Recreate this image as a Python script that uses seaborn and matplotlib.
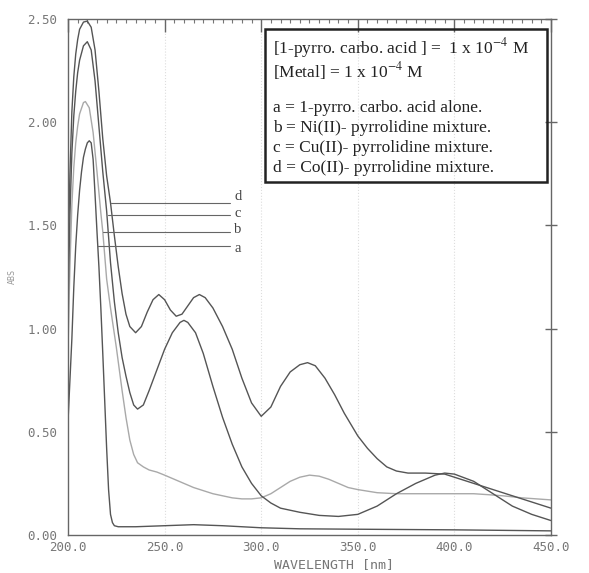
import numpy as np
import pandas as pd
import matplotlib
matplotlib.use("Agg")
import matplotlib.pyplot as plt
import seaborn as sns
from matplotlib.patches import Rectangle
from matplotlib.ticker import MultipleLocator

# curve a : 1-pyrro. carbo. acid alone
a_nm = [200, 202, 203, 204, 205, 206, 207, 208, 209, 210, 211, 212, 213, 214, 215, 216, 217, 218,
        219, 220, 221, 222, 223, 224, 226, 235, 250, 265, 280, 300, 320, 350, 400, 450]
a_abs = [0.55, 0.95, 1.20, 1.40, 1.55, 1.67, 1.76, 1.83, 1.87, 1.90, 1.91, 1.90, 1.82, 1.65, 1.47, 1.30, 1.10, 0.88,
         0.65, 0.42, 0.22, 0.10, 0.06, 0.045, 0.04, 0.04, 0.045, 0.05, 0.045, 0.035, 0.03, 0.028, 0.025, 0.02]

# curve b : Ni(II)
b_nm = [200, 201, 202, 203, 204, 205, 206, 208, 209, 211, 213, 215, 217, 218, 220, 222, 225, 228, 230, 232,
        234, 236, 239, 242, 246, 250, 255, 260, 265, 270, 275, 280, 285, 290, 295, 300, 305, 310, 315, 320,
        325, 330, 335, 340, 345, 350, 360, 370, 380, 390, 400, 410, 418, 425, 435, 450]
b_abs = [0.90, 1.30, 1.60, 1.78, 1.90, 1.98, 2.04, 2.095, 2.10, 2.07, 1.95, 1.76, 1.56, 1.47, 1.24, 1.10, 0.91, 0.70, 0.57, 0.46,
         0.39, 0.35, 0.33, 0.315, 0.305, 0.29, 0.27, 0.25, 0.23, 0.215, 0.20, 0.19, 0.18, 0.175, 0.175, 0.18, 0.20, 0.23, 0.26, 0.28,
         0.29, 0.285, 0.27, 0.25, 0.23, 0.22, 0.205, 0.20, 0.20, 0.20, 0.20, 0.20, 0.195, 0.19, 0.18, 0.17]

# curve c : Cu(II)
c_nm = [200, 201, 202, 203, 204, 205, 206, 208, 210, 212, 214, 216, 218, 220, 222, 224, 226, 228, 230, 232,
        234, 236, 239, 242, 246, 250, 254, 258, 260, 262, 266, 270, 275, 280, 285, 290, 295, 300, 305, 310,
        315, 320, 330, 340, 350, 360, 370, 380, 390, 395, 400, 410, 420, 430, 440, 450]
c_abs = [1.10, 1.55, 1.85, 2.03, 2.15, 2.24, 2.30, 2.37, 2.39, 2.35, 2.20, 1.98, 1.76, 1.57, 1.32, 1.13, 0.98, 0.86, 0.77, 0.69,
         0.63, 0.61, 0.63, 0.70, 0.80, 0.90, 0.98, 1.03, 1.04, 1.03, 0.98, 0.88, 0.72, 0.57, 0.44, 0.33, 0.25, 0.19, 0.155, 0.13,
         0.12, 0.11, 0.095, 0.09, 0.10, 0.14, 0.20, 0.25, 0.29, 0.30, 0.295, 0.26, 0.20, 0.14, 0.10, 0.07]

# curve d : Co(II)
d_nm = [200, 201, 202, 203, 204, 205, 206, 208, 210, 212, 214, 216, 218, 220, 222, 224, 226, 228, 230, 232,
        235, 238, 241, 244, 247, 250, 253, 256, 259, 262, 265, 268, 271, 275, 280, 285, 290, 295, 300, 305,
        310, 315, 320, 324, 328, 333, 338, 343, 350, 355, 360, 365, 370, 376, 385, 395, 400, 410, 420, 430, 440, 450]
d_abs = [1.30, 1.75, 2.05, 2.22, 2.33, 2.40, 2.45, 2.485, 2.49, 2.46, 2.35, 2.15, 1.92, 1.74, 1.61, 1.45, 1.30, 1.17, 1.07, 1.01,
         0.98, 1.01, 1.08, 1.14, 1.165, 1.14, 1.09, 1.06, 1.07, 1.11, 1.15, 1.165, 1.15, 1.10, 1.01, 0.90, 0.76, 0.64, 0.575, 0.62,
         0.72, 0.79, 0.825, 0.835, 0.82, 0.76, 0.68, 0.59, 0.48, 0.42, 0.37, 0.33, 0.31, 0.30, 0.30, 0.295, 0.28, 0.25, 0.22, 0.19, 0.16, 0.13]

# label leaders: curve letter, start wavelength, level, letter height
lab_names = ["d", "c", "b", "a"]
lab_start = [222.3, 220.7, 218.0, 215.0]
lab_level = [1.61, 1.55, 1.47, 1.40]
lab_text_y = [1.64, 1.56, 1.478, 1.39]

x_ticks = [200, 250, 300, 350, 400, 450]
x_ticklabels = ["200.0", "250.0", "300.0", "350.0", "400.0", "450.0"]
y_ticks = [0.0, 0.5, 1.0, 1.5, 2.0, 2.5]
y_ticklabels = ["0.00", "0.50", "1.00", "1.50", "2.00", "2.50"]

legend_lines = [
    r"[1-pyrro. carbo. acid ] =  1 x 10$^{-4}$ M",
    r"[Metal] = 1 x 10$^{-4}$ M",
    "a = 1-pyrro. carbo. acid alone.",
    "b = Ni(II)- pyrrolidine mixture.",
    "c = Cu(II)- pyrrolidine mixture.",
    "d = Co(II)- pyrrolidine mixture.",
]

sns.set_style("white")
plt.rcParams["mathtext.fontset"] = "stix"

fig = plt.figure(figsize=(5.89, 5.73), dpi=100)
ax = fig.add_axes([68 / 589, 38 / 573, 483 / 589, 516 / 573])

line_col = "#555555"
curves = [
    (a_nm, a_abs, line_col),
    (b_nm, b_abs, "#a9a9a9"),
    (c_nm, c_abs, line_col),
    (d_nm, d_abs, line_col),
]
for nm, ab, col in curves:
    df = pd.DataFrame({"nm": nm, "abs": ab})
    sns.lineplot(data=df, x="nm", y="abs", color=col, linewidth=1.0, estimator=None, ax=ax)

# leader lines with letters
for name, x0, lev, ty in zip(lab_names, lab_start, lab_level, lab_text_y):
    ax.plot([x0, 284], [lev, lev], color="#666666", linewidth=0.8)
    ax.text(286, ty, name, fontsize=10.5, family="Liberation Serif", color="#444444",
            va="center", ha="left")

# faint dotted grid fragments
for gx in [250, 300, 350, 400]:
    ax.axvline(gx, color="#dddddd", linewidth=0.8, linestyle=":", zorder=0)

ax.set_xlim(200, 450)
ax.set_ylim(0, 2.5)
ax.set_xticks(x_ticks)
ax.set_xticklabels(x_ticklabels)
ax.set_yticks(y_ticks)
ax.set_yticklabels(y_ticklabels)
ax.xaxis.set_minor_locator(MultipleLocator(5))
ax.yaxis.set_minor_locator(MultipleLocator(0.05))

for lab in ax.get_xticklabels() + ax.get_yticklabels():
    lab.set_family("DejaVu Sans Mono")
    lab.set_fontsize(9)
    lab.set_color("#777777")

ax.tick_params(axis="x", which="major", direction="in", length=9, width=1.0, color="#666666",
               top=True, pad=4)
ax.tick_params(axis="x", which="minor", direction="in", length=3, width=0.8, color="#777777", top=True)
ax.tick_params(axis="y", which="major", direction="inout", length=9, width=1.0, color="#666666",
               right=True, pad=3)
ax.tick_params(axis="y", which="minor", direction="in", length=3, width=0.8, color="#777777")

for sp in ax.spines.values():
    sp.set_color("#666666")
    sp.set_linewidth(1.0)

ax.set_xlabel("WAVELENGTH [nm]", family="DejaVu Sans Mono", fontsize=9.5, color="#777777")
ax.xaxis.set_label_coords(0.55, -0.044)
ax.set_ylabel("ABS", family="DejaVu Sans Mono", fontsize=6, color="#999999")
ax.yaxis.set_label_coords(-0.105, 0.5)

# legend box
box = Rectangle((265 / 589, 1 - 182 / 573), 282 / 589, 153 / 573, transform=fig.transFigure,
                fill=False, edgecolor="#222222", linewidth=1.8)
fig.patches.append(box)
text_y = [48, 71, 108, 128, 148, 168]
for txt, ty in zip(legend_lines, text_y):
    fig.text(273 / 589, 1 - ty / 573, txt, family="Liberation Serif", fontsize=12.5,
             color="#222222", va="center", ha="left")

fig.savefig("out.png", dpi=100)
